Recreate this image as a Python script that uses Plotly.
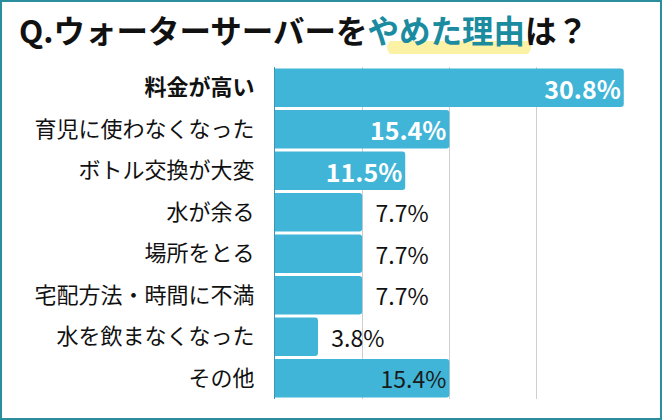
import plotly.graph_objects as go

# reasons for quitting a water server (percent of answers)
reasons = ["料金が高い", "育児に使わなくなった", "ボトル交換が大変", "水が余る",
           "場所をとる", "宅配方法・時間に不満", "水を飲まなくなった", "その他"]
percent = [30.8, 15.4, 11.5, 7.7, 7.7, 7.7, 3.8, 15.4]

W, H = 662, 420
L, R, T, B = 275, 38, 67, 21
PW, PH = W - L - R, H - T - B

bar_color = "#41b5d7"
teal = "#1b8c9f"
font = "Noto Sans CJK JP, Noto Sans, sans-serif"


def px_x(x):
    return (x - L) / PW


def px_y(y):
    return (H - B - y) / PH


# label styling: top three white/bold inside, others dark
text_pos = ["inside", "inside", "inside", "outside", "outside", "outside", "outside", "inside"]
text_col = ["white", "white", "white", "#111111", "#111111", "#111111", "#111111", "#1a1a1a"]
text_size = [25, 25, 25, 23, 23, 23, 23, 23]
labels = []
for i, v in enumerate(percent):
    s = f"{v}%"
    if i < 3:
        s = "<b>" + s + "</b>"
    elif text_pos[i] == "outside":
        s = "  " + s
    labels.append(s)

ticktext = ["<b>" + reasons[0] + "</b>"] + reasons[1:]

fig = go.Figure()
fig.add_trace(go.Bar(
    x=percent, y=reasons, orientation="h",
    marker=dict(color=bar_color, line=dict(width=0)),
    text=labels, textposition=text_pos, insidetextanchor="end",
    textangle=0, constraintext="none", cliponaxis=False,
    textfont=dict(color=text_col, size=text_size, family=font),
    hoverinfo="skip",
))

fig.update_layout(
    width=W, height=H,
    margin=dict(l=L, r=R, t=T, b=B),
    paper_bgcolor="white", plot_bgcolor="white",
    showlegend=False, bargap=0.07, barcornerradius=3,
    font=dict(family=font, color="#111111"),
    title=dict(
        text="<b>Q.ウォーターサーバーを<span style='color:" + teal + "'>やめた理由</span>は？</b>",
        font=dict(size=31.5, family=font, color="#111111"),
        xref="container", yref="container",
        x=19 / W, xanchor="left", y=1 - 32 / H, yanchor="middle",
    ),
    xaxis=dict(range=[0, 30.82], tick0=0, dtick=7.7, showgrid=True,
               gridcolor="#cfcfcf", gridwidth=1, zeroline=False,
               showticklabels=False, ticks="", fixedrange=True),
    yaxis=dict(autorange="reversed", tickmode="array", tickvals=reasons,
               ticktext=ticktext, ticks="", ticklabelstandoff=15,
               tickfont=dict(size=22, family=font, color="#111111"),
               showline=True, linecolor="#3b98ae", linewidth=1,
               showgrid=False, zeroline=False),
    shapes=[
        # yellow marker under the highlighted words
        dict(type="path", xref="paper", yref="paper", layer="below",
             path=f"M {px_x(390)} {px_y(41)} L {px_x(528)} {px_y(41)} "
                  f"Q {px_x(534)} {px_y(47)} {px_x(528)} {px_y(54)} "
                  f"L {px_x(390)} {px_y(54)} Q {px_x(384)} {px_y(47)} {px_x(390)} {px_y(41)} Z",
             fillcolor="#fbf2a6", line=dict(width=0)),
        # frame
        dict(type="rect", xref="paper", yref="paper",
             x0=px_x(1), x1=px_x(W - 1), y0=px_y(H - 1), y1=px_y(1),
             line=dict(color="#2b8e9c", width=2), fillcolor="rgba(0,0,0,0)"),
    ],
)

fig.write_html("out.html", config={"displayModeBar": False},
               post_script="document.body.style.margin='0';")
